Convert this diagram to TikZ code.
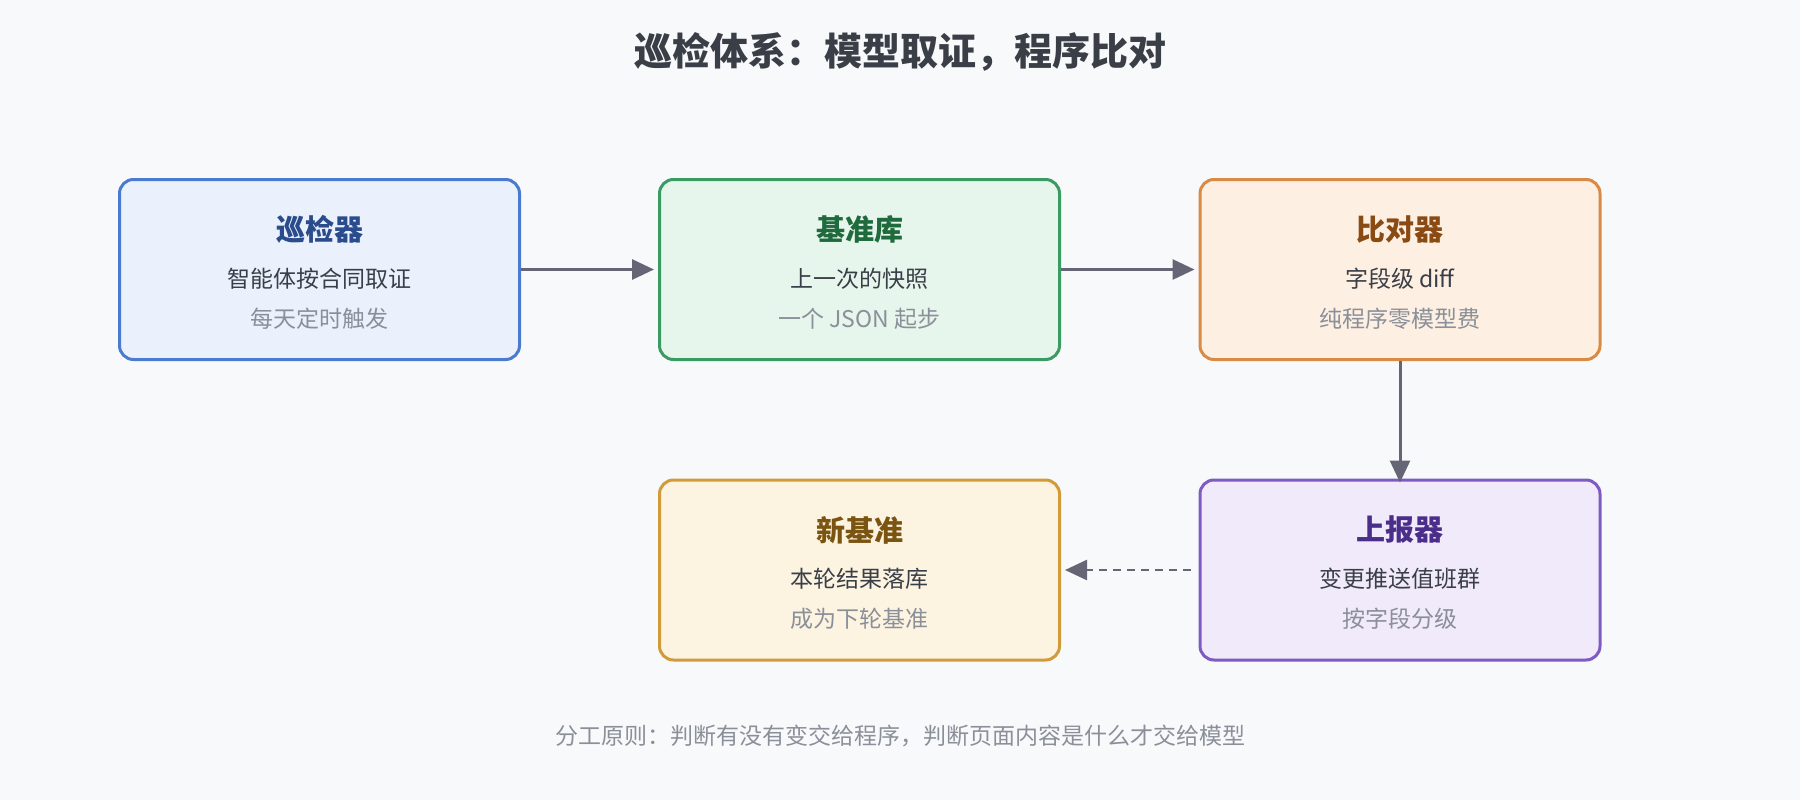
\documentclass[tikz,border=0pt]{standalone}
\usepackage{fontspec}
\setmainfont{Noto Sans CJK SC}
\usetikzlibrary{arrows.meta}
\definecolor{bg}{HTML}{F8F9FB}
\definecolor{arr}{HTML}{656575}
\definecolor{ta}{HTML}{3A3F47}
\definecolor{tb}{HTML}{8A8F99}
\definecolor{fa}{HTML}{EAF1FD}\definecolor{ba}{HTML}{4A7BD0}\definecolor{ha}{HTML}{2B4C8C}
\definecolor{fb}{HTML}{E7F6EC}\definecolor{bb}{HTML}{3A9B63}\definecolor{hb}{HTML}{1F6B3D}
\definecolor{fc}{HTML}{FDEFE2}\definecolor{bc}{HTML}{D98A45}\definecolor{hc}{HTML}{8A4A14}
\definecolor{fd}{HTML}{F1EAFA}\definecolor{bd}{HTML}{7E5BC2}\definecolor{hd}{HTML}{4B2D8A}
\definecolor{fe}{HTML}{FDF3E1}\definecolor{be}{HTML}{D29B3A}\definecolor{he}{HTML}{7A5410}
\begin{document}
\begin{tikzpicture}[x=1pt,y=-1pt,
 box/.style={draw,line width=3pt,rounded corners=14pt,minimum width=400pt,minimum height=180pt},
 ht/.style={font=\fontsize{29}{32}\selectfont\bfseries},
 l2/.style={font=\fontsize{23}{26}\selectfont,text=ta},
 l3/.style={font=\fontsize{23}{26}\selectfont,text=tb},
 ar/.style={draw=arr,line width=3pt,-{Triangle[length=22pt,width=20pt]}}]
\fill[bg] (0,0) rectangle (1800,800);
\node[font=\fontsize{38}{42}\selectfont\bfseries,text=ta] (title) at (900,52) {巡检体系：模型取证，程序比对};
\newcommand{\mybox}[8]{%
 \node[box,fill=#5,draw=#6] (#1) at (#2,#3) {};
 \node[ht,text=#7] at (#2,#3-40) {#8};}
\mybox{A}{319.5}{269.5}{}{fa}{ba}{ha}{巡检器}
\node[l2] at (319.5,279) {智能体按合同取证};\node[l3] at (319.5,319) {每天定时触发};
\mybox{B}{859.5}{269.5}{}{fb}{bb}{hb}{基准库}
\node[l2] at (859.5,279) {上一次的快照};\node[l3] at (859.5,319) {一个 JSON 起步};
\mybox{C}{1400}{269.5}{}{fc}{bc}{hc}{比对器}
\node[l2] at (1400,279) {字段级 diff};\node[l3] at (1400,319) {纯程序零模型费};
\mybox{D}{1400}{570}{}{fd}{bd}{hd}{上报器}
\node[l2] at (1400,579) {变更推送值班群};\node[l3] at (1400,619) {按字段分级};
\mybox{E}{859.5}{570}{}{fe}{be}{he}{新基准}
\node[l2] at (859.5,579) {本轮结果落库};\node[l3] at (859.5,619) {成为下轮基准};
\draw[ar] (A.east) -- ([xshift=-4pt]B.west);
\draw[ar] (B.east) -- ([xshift=-4pt]C.west);
\draw[ar] (C.south) -- ([yshift=-4pt]D.north);
\draw[ar,dash pattern=on 8pt off 6pt,line width=2.5pt] ([xshift=-8pt]D.west) -- ([xshift=4pt]E.east);
\node[font=\fontsize{23}{26}\selectfont,text=tb] (foot) at (900,736) {分工原则：判断有没有变交给程序，判断页面内容是什么才交给模型};
\end{tikzpicture}
\end{document}
